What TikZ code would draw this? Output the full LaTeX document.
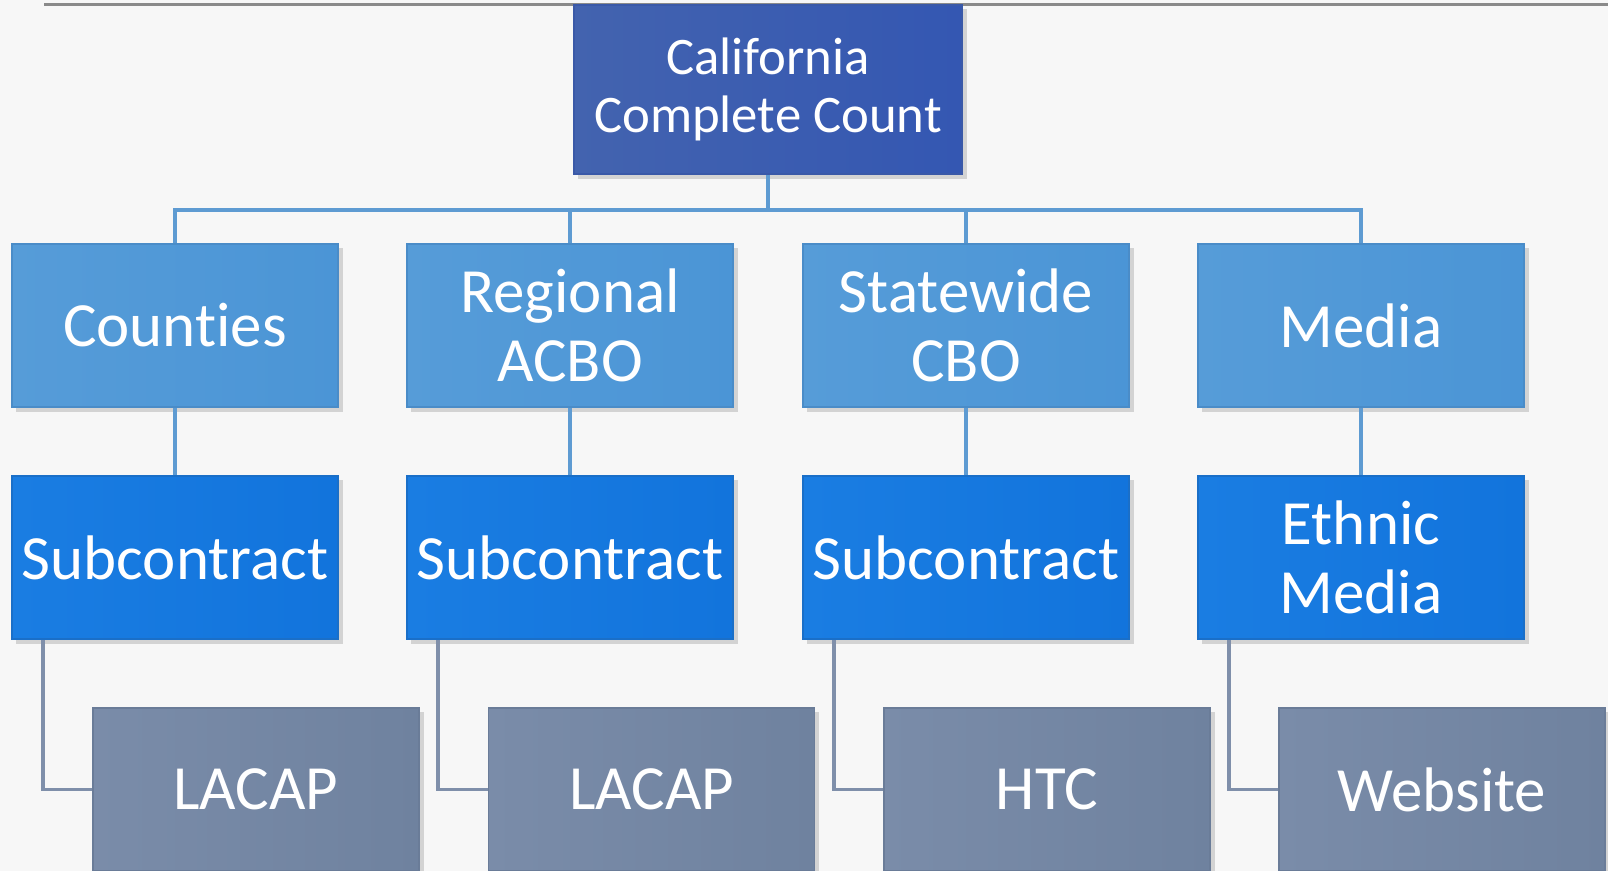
\documentclass[tikz,border=0pt]{standalone}
\usepackage{fontspec}
\setmainfont{Carlito}[Ligatures=NoCommon]
\usetikzlibrary{shadows}
\definecolor{bg}{HTML}{F7F7F7}
\definecolor{topL}{HTML}{4363AF}
\definecolor{topR}{HTML}{3457B2}
\definecolor{topB}{HTML}{3A59A8}
\definecolor{oneL}{HTML}{569CD8}
\definecolor{oneR}{HTML}{4B95D6}
\definecolor{oneB}{HTML}{4A8CC8}
\definecolor{twoL}{HTML}{1A7DE2}
\definecolor{twoR}{HTML}{1274DC}
\definecolor{twoB}{HTML}{1A6FC8}
\definecolor{thrL}{HTML}{7A8CA9}
\definecolor{thrR}{HTML}{6F829F}
\definecolor{thrB}{HTML}{6A7C98}
\definecolor{lineA}{HTML}{5E9BD2}
\definecolor{lineB}{HTML}{7F8FAA}
\definecolor{rule}{HTML}{8A8A8A}
\tikzset{
  box/.style={rectangle, draw, line width=0.5pt, text=white, align=center,
    minimum width=3.26cm, minimum height=1.63cm, inner sep=0pt,
    drop shadow={shadow xshift=0.045cm, shadow yshift=-0.045cm, opacity=0.3},
    font=\fontsize{17.9}{19.6}\selectfont},
  topbox/.style={box, left color=topL, right color=topR, draw=topB,
    minimum width=3.88cm, minimum height=1.69cm,
    font=\fontsize{15}{16.6}\selectfont},
  onebox/.style={box, left color=oneL, right color=oneR, draw=oneB},
  twobox/.style={box, left color=twoL, right color=twoR, draw=twoB},
  thrbox/.style={box, left color=thrL, right color=thrR, draw=thrB},
  connA/.style={draw=lineA, line width=0.9pt},
  connB/.style={draw=lineB, line width=0.9pt}
}
\begin{document}
\begin{tikzpicture}[x=0.01cm, y=-0.01cm]
\fill[bg] (0,0) rectangle (1608,871);
\useasboundingbox (0,0) rectangle (1608,871);
\coordinate (rs) at (44,4.5);
\coordinate (re) at (1608,4.5);
\draw[rule, line width=0.7pt] (rs) -- (re);

\coordinate (bus) at (768,210);

\node[topbox] (top) at (768,89.5) {California\\Complete Count};
\node[onebox] (c1) at (175,325.5) {Counties};
\node[onebox] (c2) at (570,325.5) {Regional\\ACBO};
\node[onebox] (c3) at (966,325.5) {Statewide\\CBO};
\node[onebox] (c4) at (1361,325.5) {Media};

\node[twobox] (s1) at (175,557.5) {Subcontract};
\node[twobox] (s2) at (570,557.5) {Subcontract};
\node[twobox] (s3) at (966,557.5) {Subcontract};
\node[twobox] (s4) at (1361,557.5) {Ethnic\\Media};

\node[thrbox] (l1) at (256,789.5) {LACAP};
\node[thrbox] (l2) at (651.5,789.5) {LACAP};
\node[thrbox] (l3) at (1047,789.5) {HTC};
\node[thrbox] (l4) at (1442,789.5) {Website};

\draw[connA] (top.south) -- (bus);
\draw[connA] (c1.north) |- (bus) -| (c4.north);
\draw[connA] (c2.north) -- (c2.north |- bus);
\draw[connA] (c3.north) -- (c3.north |- bus);
\draw[connA] (c1.south) -- (s1.north);
\draw[connA] (c2.south) -- (s2.north);
\draw[connA] (c3.south) -- (s3.north);
\draw[connA] (c4.south) -- (s4.north);

\draw[connB] ([xshift=0.32cm]s1.south west) |- (l1.west);
\draw[connB] ([xshift=0.32cm]s2.south west) |- (l2.west);
\draw[connB] ([xshift=0.32cm]s3.south west) |- (l3.west);
\draw[connB] ([xshift=0.32cm]s4.south west) |- (l4.west);
\end{tikzpicture}
\end{document}
